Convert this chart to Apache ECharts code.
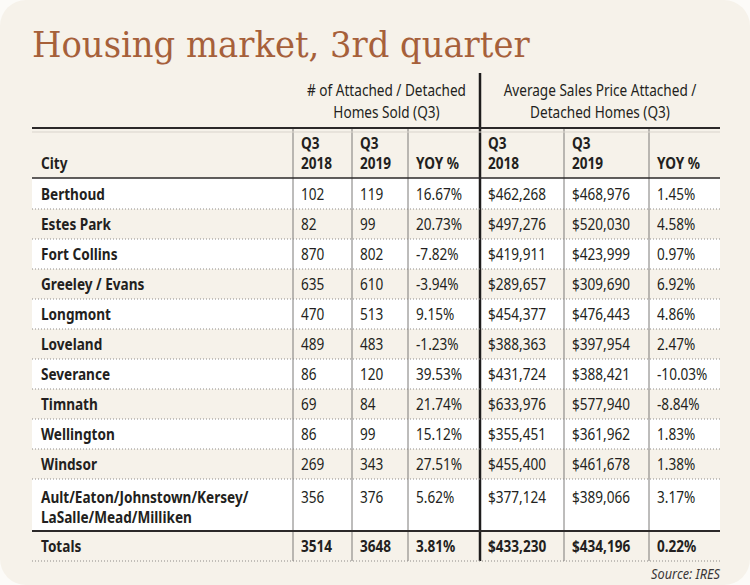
<!DOCTYPE html>
<html><head><meta charset="utf-8">
<script src="https://cdn.jsdelivr.net/npm/echarts@6/dist/echarts.min.js"></script>
<style>html,body{margin:0;padding:0;background:#fcfbf8;} #c{width:750px;height:585px;}</style>
</head><body><div id="c"></div>
<script>
// ---- data ----
const cities = ["Berthoud","Estes Park","Fort Collins","Greeley / Evans","Longmont","Loveland","Severance","Timnath","Wellington","Windsor","Ault/Eaton/Johnstown/Kersey/\nLaSalle/Mead/Milliken","Totals"];
const sold2018 = [102,82,870,635,470,489,86,69,86,269,356,3514];
const sold2019 = [119,99,802,610,513,483,120,84,99,343,376,3648];
const soldYoy = [16.67,20.73,-7.82,-3.94,9.15,-1.23,39.53,21.74,15.12,27.51,5.62,3.81];
const price2018 = [462268,497276,419911,289657,454377,388363,431724,633976,355451,455400,377124,433230];
const price2019 = [468976,520030,423999,309690,476443,397954,388421,577940,361962,461678,389066,434196];
const priceYoy = [1.45,4.58,0.97,6.92,4.86,2.47,-10.03,-8.84,1.83,1.38,3.17,0.22];
const columnHeaders = ["City","Q3\n2018","Q3\n2019","YOY %","Q3\n2018","Q3\n2019","YOY %"];
const groupHeaders = ["# of Attached / Detached\nHomes Sold (Q3)","Average Sales Price Attached /\nDetached Homes (Q3)"];
const titleText = "Housing market, 3rd quarter";
const sourceText = "Source: IRES";

// ---- layout (styles, not data) ----
const colEdges = [0,261,320,376,448,532,617,688];
const headerH = 50;
const rowH = [31,30,30,30,30,30,30,30,30,30,52,30];
const rowTops = []; { let t = headerH; rowH.forEach(h => { rowTops.push(t); t += h; }); }
const tableH = headerH + rowH.reduce((a,b)=>a+b,0);
const FONT = '"Noto Sans","Open Sans",sans-serif';
const SX = 0.85;
const INK = '#231f20';
const CREAM = '#f6f2ea';
const GRAY = '#7c7a78';

const fmtN = v => String(v);
const fmtP = v => '$' + v.toLocaleString('en-US');
const fmtY = v => v.toFixed(2) + '%';

const rowData = cities.map((c,i)=>[i, c, fmtN(sold2018[i]), fmtN(sold2019[i]), fmtY(soldYoy[i]), fmtP(price2018[i]), fmtP(price2019[i]), fmtY(priceYoy[i])]);
const headData = columnHeaders.map((h,c)=>[c, h]);

function txt(x, y, text, opts){
  return {type:'text', z2:30, x: x, y: y, scaleX: SX, style: Object.assign({
    text: text, x: 0, y: 0, fill: INK, fontFamily: FONT, fontSize: 16,
    fontWeight: 'normal', align: 'left', verticalAlign: 'middle', lineHeight: 20}, opts || {})};
}

function vLines(api, yTop, yBot, children){
  for (let c = 1; c < colEdges.length - 1; c++) {
    const x = api.coord([colEdges[c], 0])[0];
    const a = api.coord([0, yTop])[1], b = api.coord([0, yBot])[1];
    const thick = c === 4;
    children.push({type:'line', z2: thick?20:15, shape:{x1:x, y1:a, x2:x, y2:b},
      style:{stroke: thick ? '#1e1c1c' : GRAY, lineWidth: thick ? 2.5 : 1}});
  }
}

function renderRow(params, api){
  const i = api.value(0);
  const row = rowData[params.dataIndex];
  const top = rowTops[i], bot = top + rowH[i];
  const p0 = api.coord([colEdges[0], top]);
  const p1 = api.coord([colEdges[colEdges.length-1], bot]);
  const children = [];
  children.push({type:'rect', z2:0, shape:{x:p0[0], y:p0[1], width:p1[0]-p0[0], height:p1[1]-p0[1]},
    style:{fill: i % 2 === 0 ? '#ffffff' : CREAM}});
  const isTotal = i === cities.length - 1;
  const multi = String(row[1]).indexOf('\n') >= 0;
  for (let c = 0; c < 7; c++) {
    const x = api.coord([colEdges[c], 0])[0] + (c === 0 ? 9 : 8);
    const bold = c === 0 || isTotal;
    children.push(txt(x, multi ? p0[1] + 8 : (p0[1] + p1[1]) / 2, String(row[c + 1]), {
      fontWeight: bold ? 'bold' : 'normal', verticalAlign: multi ? 'top' : 'middle'}));
  }
  if (i === cities.length - 2) {
    children.push({type:'line', z2:25, shape:{x1:p0[0], y1:p1[1], x2:p1[0], y2:p1[1]},
      style:{stroke:'#2b2929', lineWidth:2}});
  } else {
    children.push({type:'line', z2:25, shape:{x1:p0[0], y1:p1[1], x2:p1[0], y2:p1[1]},
      style:{stroke:'#8e8b88', lineWidth:1, lineDash:[1,2]}});
  }
  vLines(api, top, bot, children);
  return {type:'group', children};
}

function renderHead(params, api){
  const c = api.value(0);
  const label = headData[params.dataIndex][1];
  const children = [];
  const x0 = api.coord([colEdges[c], 0])[0];
  const x1 = api.coord([colEdges[c+1], 0])[0];
  const yTop = api.coord([0, 0])[1];
  const yBot = api.coord([0, headerH])[1];
  children.push(txt(x0 + (c === 0 ? 9 : 8), yBot - 5, label, {fontWeight:'bold', verticalAlign:'bottom'}));
  children.push({type:'line', z2:25, shape:{x1:x0, y1:yTop, x2:x1, y2:yTop}, style:{stroke:'#2b2929', lineWidth:2}});
  children.push({type:'line', z2:25, shape:{x1:x0, y1:yTop+4, x2:x1, y2:yTop+4}, style:{stroke:'#d9d4cc', lineWidth:1}});
  children.push({type:'line', z2:25, shape:{x1:x0, y1:yBot, x2:x1, y2:yBot}, style:{stroke:'#2b2929', lineWidth:1.6}});
  if (c > 0) {
    const thick = c === 4;
    children.push({type:'line', z2: thick?20:15, shape:{x1:x0, y1: thick ? yTop - 55 : yTop, x2:x0, y2:yBot},
      style:{stroke: thick ? '#1e1c1c' : GRAY, lineWidth: thick ? 2.5 : 1}});
  }
  if (c === 1 || c === 4) {
    const g = c === 1 ? 0 : 1;
    const xa = api.coord([colEdges[c], 0])[0];
    const xb = api.coord([colEdges[c === 1 ? 4 : 7], 0])[0];
    children.push(txt((xa + xb) / 2, yTop - 27, groupHeaders[g], {align:'center', lineHeight: 22}));
  }
  if (c === 6) {
    const yEnd = api.coord([0, tableH])[1];
    children.push(txt(x1, yEnd + 12, sourceText, {fill:'#3a3737', fontSize: 15, fontStyle:'italic', align:'right'}));
  }
  return {type:'group', children};
}

const chart = echarts.init(document.getElementById('c'), null, {renderer:'svg'});
chart.setOption({
  animation: false,
  backgroundColor: 'transparent',
  graphic: [
    {type:'rect', z:-10, shape:{x:0, y:0, width:750, height:585, r:26}, style:{fill: CREAM}},
    {type:'text', x: 32, y: 27, scaleX: 1.045, z: 10, style:{text: titleText, fill:'#a6603a',
      fontFamily:'"DejaVu Serif Condensed","DejaVu Serif",serif', fontSize: 36, fontWeight:'normal'}}
  ],
  grid: {left: 32, right: 30, top: 128, bottom: 585 - 128 - tableH},
  xAxis: {type:'value', min: 0, max: colEdges[colEdges.length-1], show: false},
  yAxis: {type:'value', min: 0, max: tableH, inverse: true, show: false},
  series: [
    {type:'custom', name:'rows', data: rowData, renderItem: renderRow, clip: false, silent: true},
    {type:'custom', name:'head', data: headData, renderItem: renderHead, clip: false, silent: true}
  ]
});
</script></body></html>
